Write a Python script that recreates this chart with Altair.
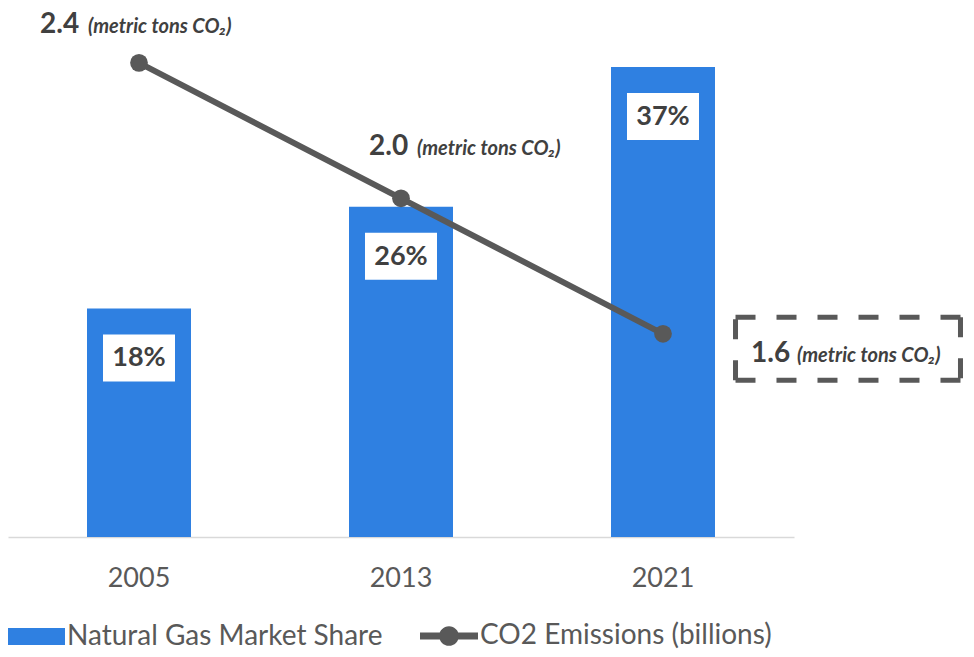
import altair as alt
import pandas as pd

years = ["2005", "2013", "2021"]
share = [18, 26, 37]
share_labels = ["18%", "26%", "37%"]
co2 = [2.4, 2.0, 1.6]
co2_labels = ["2.4", "2.0", "1.6"]
unit_label = "(metric tons CO₂)"
series = ["Natural Gas Market Share", "CO2 Emissions (billions)"]

BLUE = "#2F80E1"
GRAY = "#595959"
DARK = "#404040"
FONT = "Lato"

df = pd.DataFrame({
    "year": years,
    "share": share,
    "share_label": share_labels,
    "co2": co2,
    "co2_label": co2_labels,
    "unit": [unit_label] * len(years),
    "s_bar": [series[0]] * len(years),
    "s_line": [series[1]] * len(years),
})

x = alt.X(
    "year:N",
    sort=years,
    scale=alt.Scale(paddingInner=0, paddingOuter=0),
    axis=alt.Axis(title=None, labelAngle=0, ticks=False, grid=False,
                  domainColor="#D9D9D9", domainWidth=1.5,
                  labelFont=FONT, labelFontSize=27, labelColor=GRAY,
                  labelPadding=28),
)
y_share = alt.Y("share:Q", scale=alt.Scale(domain=[0, 40], nice=False, zero=True), axis=None)
y_co2 = alt.Y("co2:Q", scale=alt.Scale(domain=[1.0, 2.5], nice=False, zero=False), axis=None)

base = alt.Chart(df)

RECT_PATH = "M-1,-0.3H1V0.3H-1Z"
LINE_PATH = ("M-1,-0.12H1V0.12H-1Z "
             "M0.34,0A0.34,0.34 0 1,1 -0.34,0A0.34,0.34 0 1,1 0.34,0Z")
BOX_PATH = ("M-3.571,-1H3.571 M3.571,-1V1 M3.571,1H-3.571 M-3.571,1V-1")

legend_common = dict(title=None, orient="none", symbolStrokeWidth=0,
                     labelFont=FONT, labelFontSize=28, labelColor=GRAY,
                     labelOffset=2, labelLimit=0)

bars = base.mark_bar(size=104).encode(
    x=x, y=y_share,
    color=alt.Color("s_bar:N", scale=alt.Scale(domain=[series[0]], range=[BLUE]),
                    legend=alt.Legend(legendX=0, legendY=579,
                                      symbolType=RECT_PATH, symbolSize=3249,
                                      **legend_common)),
)
label_boxes = base.mark_bar(size=72, color="white", yOffset=26, y2Offset=73).encode(
    x=x, y=y_share, y2=alt.Y2("share:Q"),
)
label_text = base.mark_text(font=FONT, fontSize=27, fontWeight="bold", color=DARK,
                            baseline="middle", dy=50).encode(
    x=x, y=y_share, text="share_label:N",
)
bar_layer = alt.layer(bars, label_boxes, label_text)

line = base.mark_line(color=GRAY, strokeWidth=6).encode(x=x, y=y_co2)
points = base.mark_point(filled=True, size=314, opacity=1).encode(
    x=x, y=y_co2,
    color=alt.Color("s_line:N", scale=alt.Scale(domain=[series[1]], range=[GRAY]),
                    legend=alt.Legend(legendX=412, legendY=578,
                                      symbolType=LINE_PATH, symbolSize=3364,
                                      **legend_common)),
)

def co2_labels_for(year, num_dx, unit_dx, dy):
    sub = base.transform_filter(alt.datum.year == year)
    num = sub.mark_text(font=FONT, fontSize=28, fontWeight="bold", color=DARK,
                        align="left", baseline="alphabetic", dx=num_dx, dy=dy).encode(
        x=x, y=y_co2, text="co2_label:N")
    unit = sub.mark_text(font=FONT, fontSize=20, fontWeight="bold", fontStyle="italic",
                         color=DARK, align="left", baseline="alphabetic",
                         dx=unit_dx, dy=dy).encode(
        x=x, y=y_co2, text="unit:N")
    return [num, unit]

dashed_box = base.transform_filter(alt.datum.year == "2021").mark_point(
    shape=BOX_PATH, size=3969, filled=False, stroke=GRAY, strokeWidth=5,
    strokeDash=[20, 21], strokeJoin="round", opacity=1, xOffset=185, yOffset=15,
).encode(x=x, y=y_co2)

line_layer = alt.layer(
    line, points,
    *co2_labels_for("2005", -99, -51, -30),
    *co2_labels_for("2013", -32, 16, -43),
    *co2_labels_for("2021", 88, 134, 28),
    dashed_box,
)

chart = alt.layer(bar_layer, line_layer).resolve_scale(
    y="independent", color="independent"
).resolve_legend(color="independent").properties(
    width=786, height=508,
    autosize=alt.AutoSizeParams(type="none"),
    padding={"left": 0, "top": 21, "right": 172, "bottom": 112},
).configure_view(stroke=None)

chart.save("out.html", embed_options={"renderer": "svg", "actions": False})
